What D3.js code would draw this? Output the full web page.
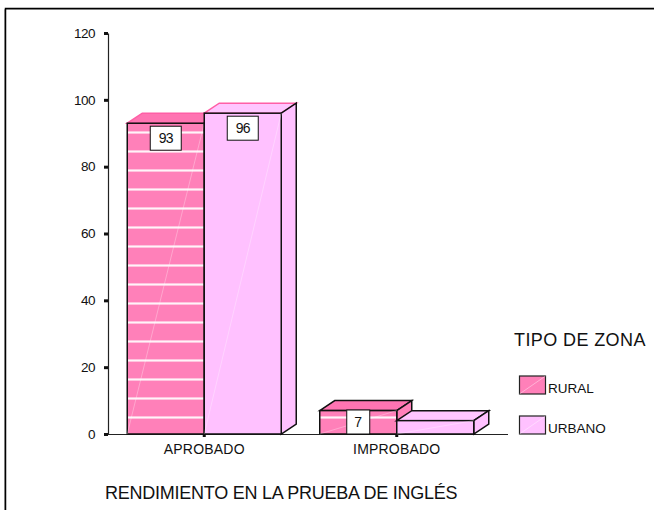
<!DOCTYPE html>
<html>
<head>
<meta charset="utf-8">
<script src="https://cdn.jsdelivr.net/npm/d3@7"></script>
<style>
body { margin: 0; background: #fff; }
text { font-family: "Liberation Sans", Arial, sans-serif; fill: #111; }
</style>
</head>
<body>
<script>
const categories = ["APROBADO", "IMPROBADO"];
const zonas = ["RURAL", "URBANO"];
const rural = [93, 7];
const urbano = [96, 4];
const yTicks = [0, 20, 40, 60, 80, 100, 120];
const legendTitle = "TIPO DE ZONA";
const xTitle = "RENDIMIENTO EN LA PRUEBA DE INGLÉS";

const width = 654, height = 510;
const colors = { RURAL: "#ff80b9", URBANO: "#ffc1ff" };

// depth of the fake 3d boxes
const depthX = 15, depthY = 10;

const svg = d3.select("body").append("svg")
    .attr("width", width)
    .attr("height", height)
    .style("display", "block");

// white stripes on the rural series, they repeat from the bottom of the chart
const pattern = svg.append("defs").append("pattern")
    .attr("id", "stripes")
    .attr("patternUnits", "userSpaceOnUse")
    .attr("width", 8)
    .attr("height", 19)
    .attr("y", 417 - 3);
pattern.append("rect").attr("width", 8).attr("height", 19).attr("fill", colors.RURAL);
pattern.append("rect").attr("y", 2).attr("width", 8).attr("height", 3).attr("fill", "#ffc4de");
pattern.append("rect").attr("y", 3).attr("width", 8).attr("height", 1).attr("fill", "#fff4f9");

// page frame, only top and left are there
svg.append("path").attr("d", "M4.5,510V8.5H654").attr("fill", "none").attr("stroke", "#aaa").attr("stroke-width", 1).attr("transform", "translate(0,1)");
svg.append("path").attr("d", "M5.5,510V8.5H654").attr("fill", "none").attr("stroke", "#000").attr("stroke-width", 1.5);

const x = d3.scaleBand().domain(categories).range([108, 493]).paddingInner(0.2).paddingOuter(0.1);
const y = d3.scaleLinear().domain([0, 120]).range([434, 33]);
const inner = d3.scaleBand().domain(zonas).range([0, x.bandwidth()]);

const yAxis = d3.axisLeft(y).tickValues(yTicks).tickSizeInner(4).tickSizeOuter(0).tickPadding(9);
const gy = svg.append("g").attr("transform", "translate(108,0)").call(yAxis);
gy.select(".domain").attr("stroke", "#222").attr("stroke-width", 1.2);
gy.selectAll(".tick line").attr("stroke", "#111").attr("stroke-width", 3);
gy.selectAll(".tick text").style("font-size", "13.5px").attr("letter-spacing", -0.5);

const xAxis = d3.axisBottom(x).tickSizeInner(3).tickSizeOuter(0).tickPadding(7);
const gx = svg.append("g").attr("transform", "translate(0,434)").call(xAxis);
gx.select(".domain").attr("d", "M108,0.5H508").attr("stroke", "#222").attr("stroke-width", 1);
gx.selectAll(".tick line").attr("stroke", "#111").attr("stroke-width", 3);
gx.selectAll(".tick text").style("font-size", "14px").attr("letter-spacing", 0.2);

function drawBox(g, x0, w, v, zona) {
    const top = y(v), base = y(0);
    const fill = colors[zona];
    const topFill = zona === "RURAL" ? "#ff74b2" : "#ffc6ff";
    const edge = "#111";
    // tall boxes have a pink top outline in the picture
    const topEdge = v > 50 ? "#ff5fa6" : edge;
    g.append("polygon")
        .attr("points", [[x0, top], [x0 + depthX, top - depthY], [x0 + w + depthX, top - depthY], [x0 + w, top]].join(" "))
        .attr("fill", topFill).attr("stroke", topEdge).attr("stroke-width", 1.5);
    g.append("polygon")
        .attr("points", [[x0 + w, top], [x0 + w + depthX, top - depthY], [x0 + w + depthX, base - depthY], [x0 + w, base]].join(" "))
        .attr("fill", fill).attr("stroke", edge).attr("stroke-width", 1.5);
    g.append("rect")
        .attr("x", x0).attr("y", top).attr("width", w).attr("height", base - top)
        .attr("fill", zona === "RURAL" ? "url(#stripes)" : fill)
        .attr("stroke", edge).attr("stroke-width", 1.5);
    // faint diagonal on the front face
    g.append("line")
        .attr("x1", x0).attr("y1", base).attr("x2", x0 + w).attr("y2", top)
        .attr("stroke", "#fff").attr("stroke-opacity", 0.3);
}

const bars = svg.append("g");
categories.forEach((c, i) => {
    drawBox(bars, x(c) + inner("RURAL"), inner.bandwidth(), rural[i], "RURAL");
    drawBox(bars, x(c) + inner("URBANO"), inner.bandwidth(), urbano[i], "URBANO");
});

// value boxes, the 4 has no label in the original
function valueLabel(c, zona, v) {
    const cx = x(c) + inner(zona) + inner.bandwidth() / 2;
    const w = v < 10 ? 23 : 31;
    const h = 24;
    const boxTop = Math.min(y(v) + 3, y(0) - h);
    svg.append("rect")
        .attr("x", cx - w / 2).attr("y", boxTop).attr("width", w).attr("height", h)
        .attr("fill", "#fff").attr("stroke", "#111").attr("stroke-width", 1);
    svg.append("text")
        .attr("x", cx).attr("y", boxTop + h / 2 + 5)
        .attr("text-anchor", "middle")
        .attr("letter-spacing", v < 10 ? 0 : -0.8)
        .style("font-size", "14px")
        .text(v);
}
categories.forEach((c, i) => {
    valueLabel(c, "RURAL", rural[i]);
    if (urbano[i] >= 10) valueLabel(c, "URBANO", urbano[i]);
});

// legend
svg.append("text").attr("x", 514).attr("y", 346).style("font-size", "18px").attr("letter-spacing", 0.4).text(legendTitle);
const legendY = d3.scalePoint().domain(zonas).range([376, 416]);
zonas.forEach(z => {
    svg.append("rect")
        .attr("x", 519.5).attr("y", legendY(z)).attr("width", 26).attr("height", 18)
        .attr("fill", colors[z]).attr("stroke", "#222").attr("stroke-width", 1.2);
    svg.append("line")
        .attr("x1", 519.5).attr("y1", legendY(z) + 18).attr("x2", 545.5).attr("y2", legendY(z))
        .attr("stroke", "#fff").attr("stroke-opacity", 0.4);
    svg.append("text").attr("x", 548).attr("y", legendY(z) + 17).style("font-size", "13.5px").text(z);
});

svg.append("text").attr("x", 105).attr("y", 499).style("font-size", "18px").attr("letter-spacing", -0.25).text(xTitle);
</script>
</body>
</html>
